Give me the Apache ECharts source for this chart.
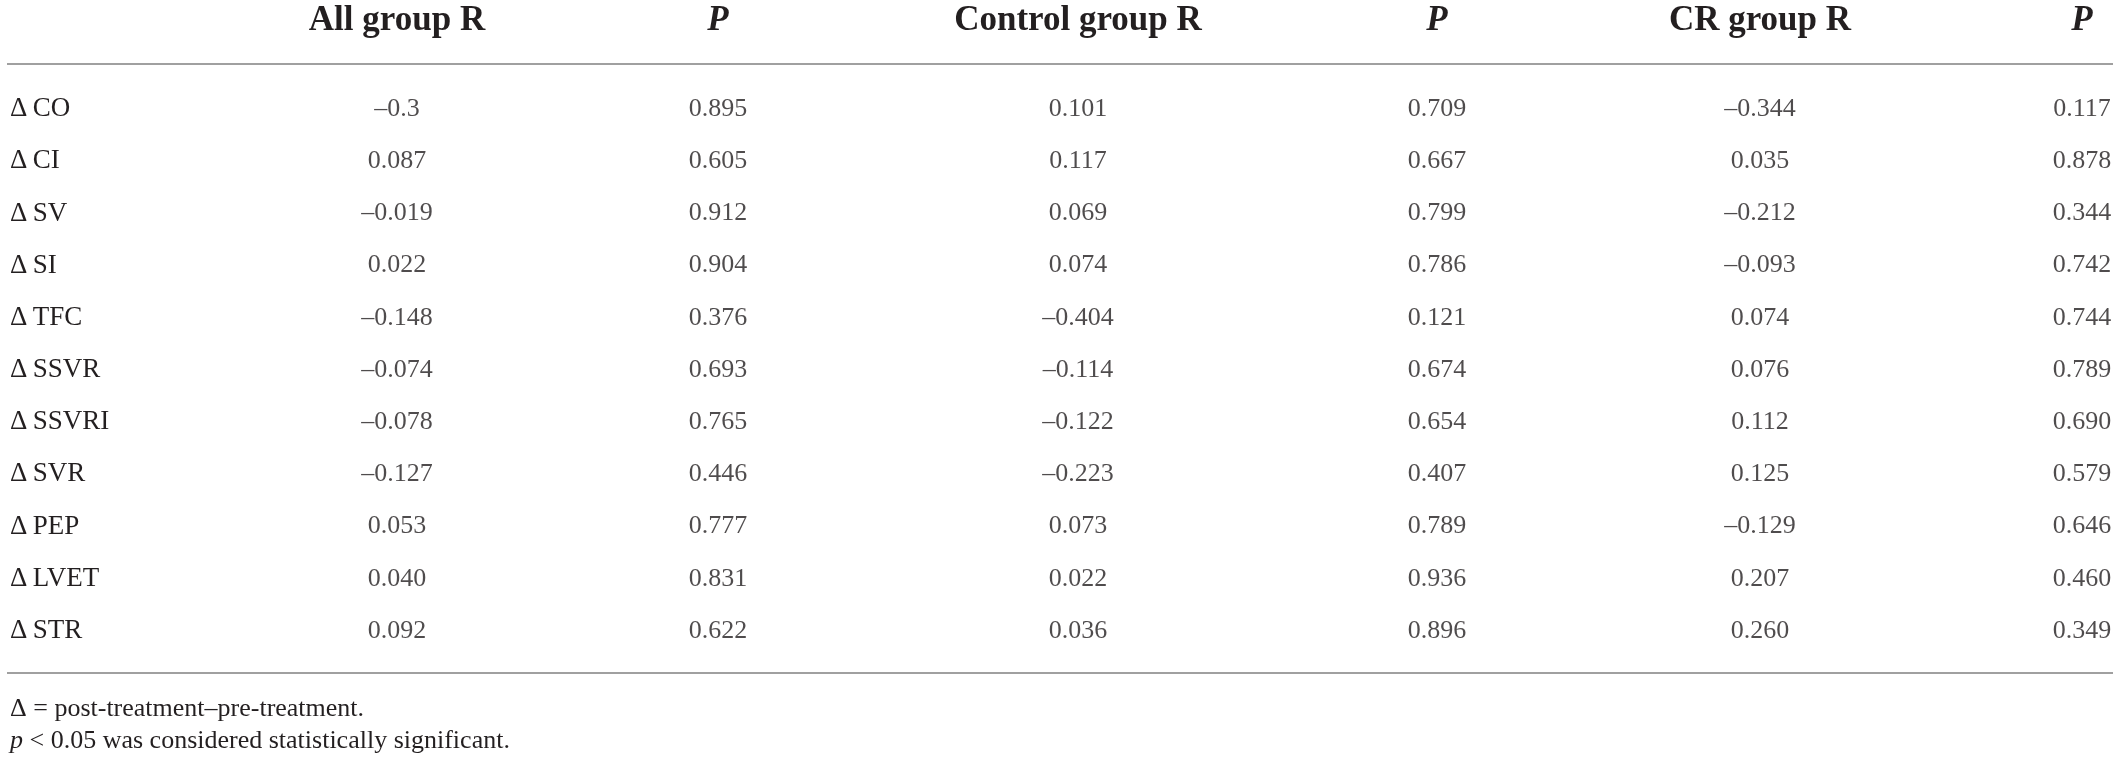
<!DOCTYPE html>
<html>
<head>
<meta charset="utf-8">
<script src="https://cdn.jsdelivr.net/npm/echarts@6/dist/echarts.min.js"></script>
<style>
html,body{margin:0;padding:0;background:#fff;}
#chart{width:2119px;height:762px;}
</style>
</head>
<body>
<div id="chart"></div>
<script>
var rowLabels = ['CO','CI','SV','SI','TFC','SSVR','SSVRI','SVR','PEP','LVET','STR'];
var groupNames = ['All group', 'Control group', 'CR group'];
var allR  = ['-0.3','0.087','-0.019','0.022','-0.148','-0.074','-0.078','-0.127','0.053','0.040','0.092'];
var allP  = ['0.895','0.605','0.912','0.904','0.376','0.693','0.765','0.446','0.777','0.831','0.622'];
var ctrlR = ['0.101','0.117','0.069','0.074','-0.404','-0.114','-0.122','-0.223','0.073','0.022','0.036'];
var ctrlP = ['0.709','0.667','0.799','0.786','0.121','0.674','0.654','0.407','0.789','0.936','0.896'];
var crR   = ['-0.344','0.035','-0.212','-0.093','0.074','0.076','0.112','0.125','-0.129','0.207','0.260'];
var crP   = ['0.117','0.878','0.344','0.742','0.744','0.789','0.690','0.579','0.646','0.460','0.349'];
var footnote1 = '\u0394 = post-treatment\u2013pre-treatment.';
var footnote2 = ' < 0.05 was considered statistically significant.';

var groupColumns = [[allR, allP], [ctrlR, ctrlP], [crR, crP]];
var TEXT = '#231f20';
var SERIF = '"Liberation Serif", "Times New Roman", serif';

// layout of the three column groups (R column centre to P column centre)
var gridLayout = [
  {left: 397, width: 321},
  {left: 1078, width: 359},
  {left: 1760, width: 322}
];

var grids = [], xAxes = [], yAxes = [], series = [];
groupNames.forEach(function (g, gi) {
  grids.push({left: gridLayout[gi].left, width: gridLayout[gi].width, top: 83, height: 574});
  xAxes.push({
    gridIndex: gi,
    type: 'category',
    position: 'top',
    boundaryGap: false,
    data: [g + ' R', 'P'],
    axisLine: {show: false},
    axisTick: {show: false},
    splitLine: {show: false},
    axisLabel: {
      margin: 62,
      verticalAlign: 'middle',
      interval: 0,
      color: TEXT,
      fontFamily: SERIF,
      fontSize: 35,
      fontWeight: 'bold',
      formatter: function (v) { return v === 'P' ? '{i|P}' : v; },
      rich: {i: {fontStyle: 'italic', fontWeight: 'bold', fontSize: 35, fontFamily: SERIF, color: TEXT}}
    }
  });
  yAxes.push({
    gridIndex: gi,
    type: 'category',
    inverse: true,
    data: rowLabels,
    axisLine: {show: false},
    axisTick: {show: false},
    splitLine: {show: false},
    axisLabel: {
      show: gi === 0,
      margin: 387,
      align: 'left',
      color: TEXT,
      fontFamily: SERIF,
      fontSize: 27,
      formatter: function (v) { return '\u0394\u2009' + v; }
    }
  });
  groupColumns[gi].forEach(function (col, ci) {
    series.push({
      type: 'scatter',
      name: g + (ci === 0 ? ' R' : ' P'),
      xAxisIndex: gi,
      yAxisIndex: gi,
      symbolSize: 0,
      silent: true,
      data: col.map(function (v, ri) { return [ci, ri, v]; }),
      label: {
        show: true,
        position: 'inside',
        color: TEXT,
        fontFamily: SERIF,
        fontSize: 26,
        formatter: function (p) { return String(p.value[2]).replace('-', '\u2013'); }
      }
    });
  });
});

var chart = echarts.init(document.getElementById('chart'), null, {renderer: 'canvas'});
chart.setOption({
  backgroundColor: '#fff',
  animation: false,
  grid: grids,
  xAxis: xAxes,
  yAxis: yAxes,
  graphic: [
    {type: 'line', shape: {x1: 7, y1: 64, x2: 2113, y2: 64}, style: {stroke: '#a0a0a0', lineWidth: 2}},
    {type: 'line', shape: {x1: 7, y1: 673, x2: 2113, y2: 673}, style: {stroke: '#a0a0a0', lineWidth: 2}},
    {type: 'text', x: 10, y: 709, style: {text: footnote1, fill: TEXT, font: '26px ' + SERIF, verticalAlign: 'middle'}},
    {type: 'text', x: 10, y: 741, style: {
      text: '{i|p}' + footnote2, fill: TEXT, font: '26px ' + SERIF, verticalAlign: 'middle',
      rich: {i: {fontStyle: 'italic', fontSize: 26, fontFamily: SERIF, fill: TEXT}}
    }}
  ],
  series: series
});
</script>
</body>
</html>
